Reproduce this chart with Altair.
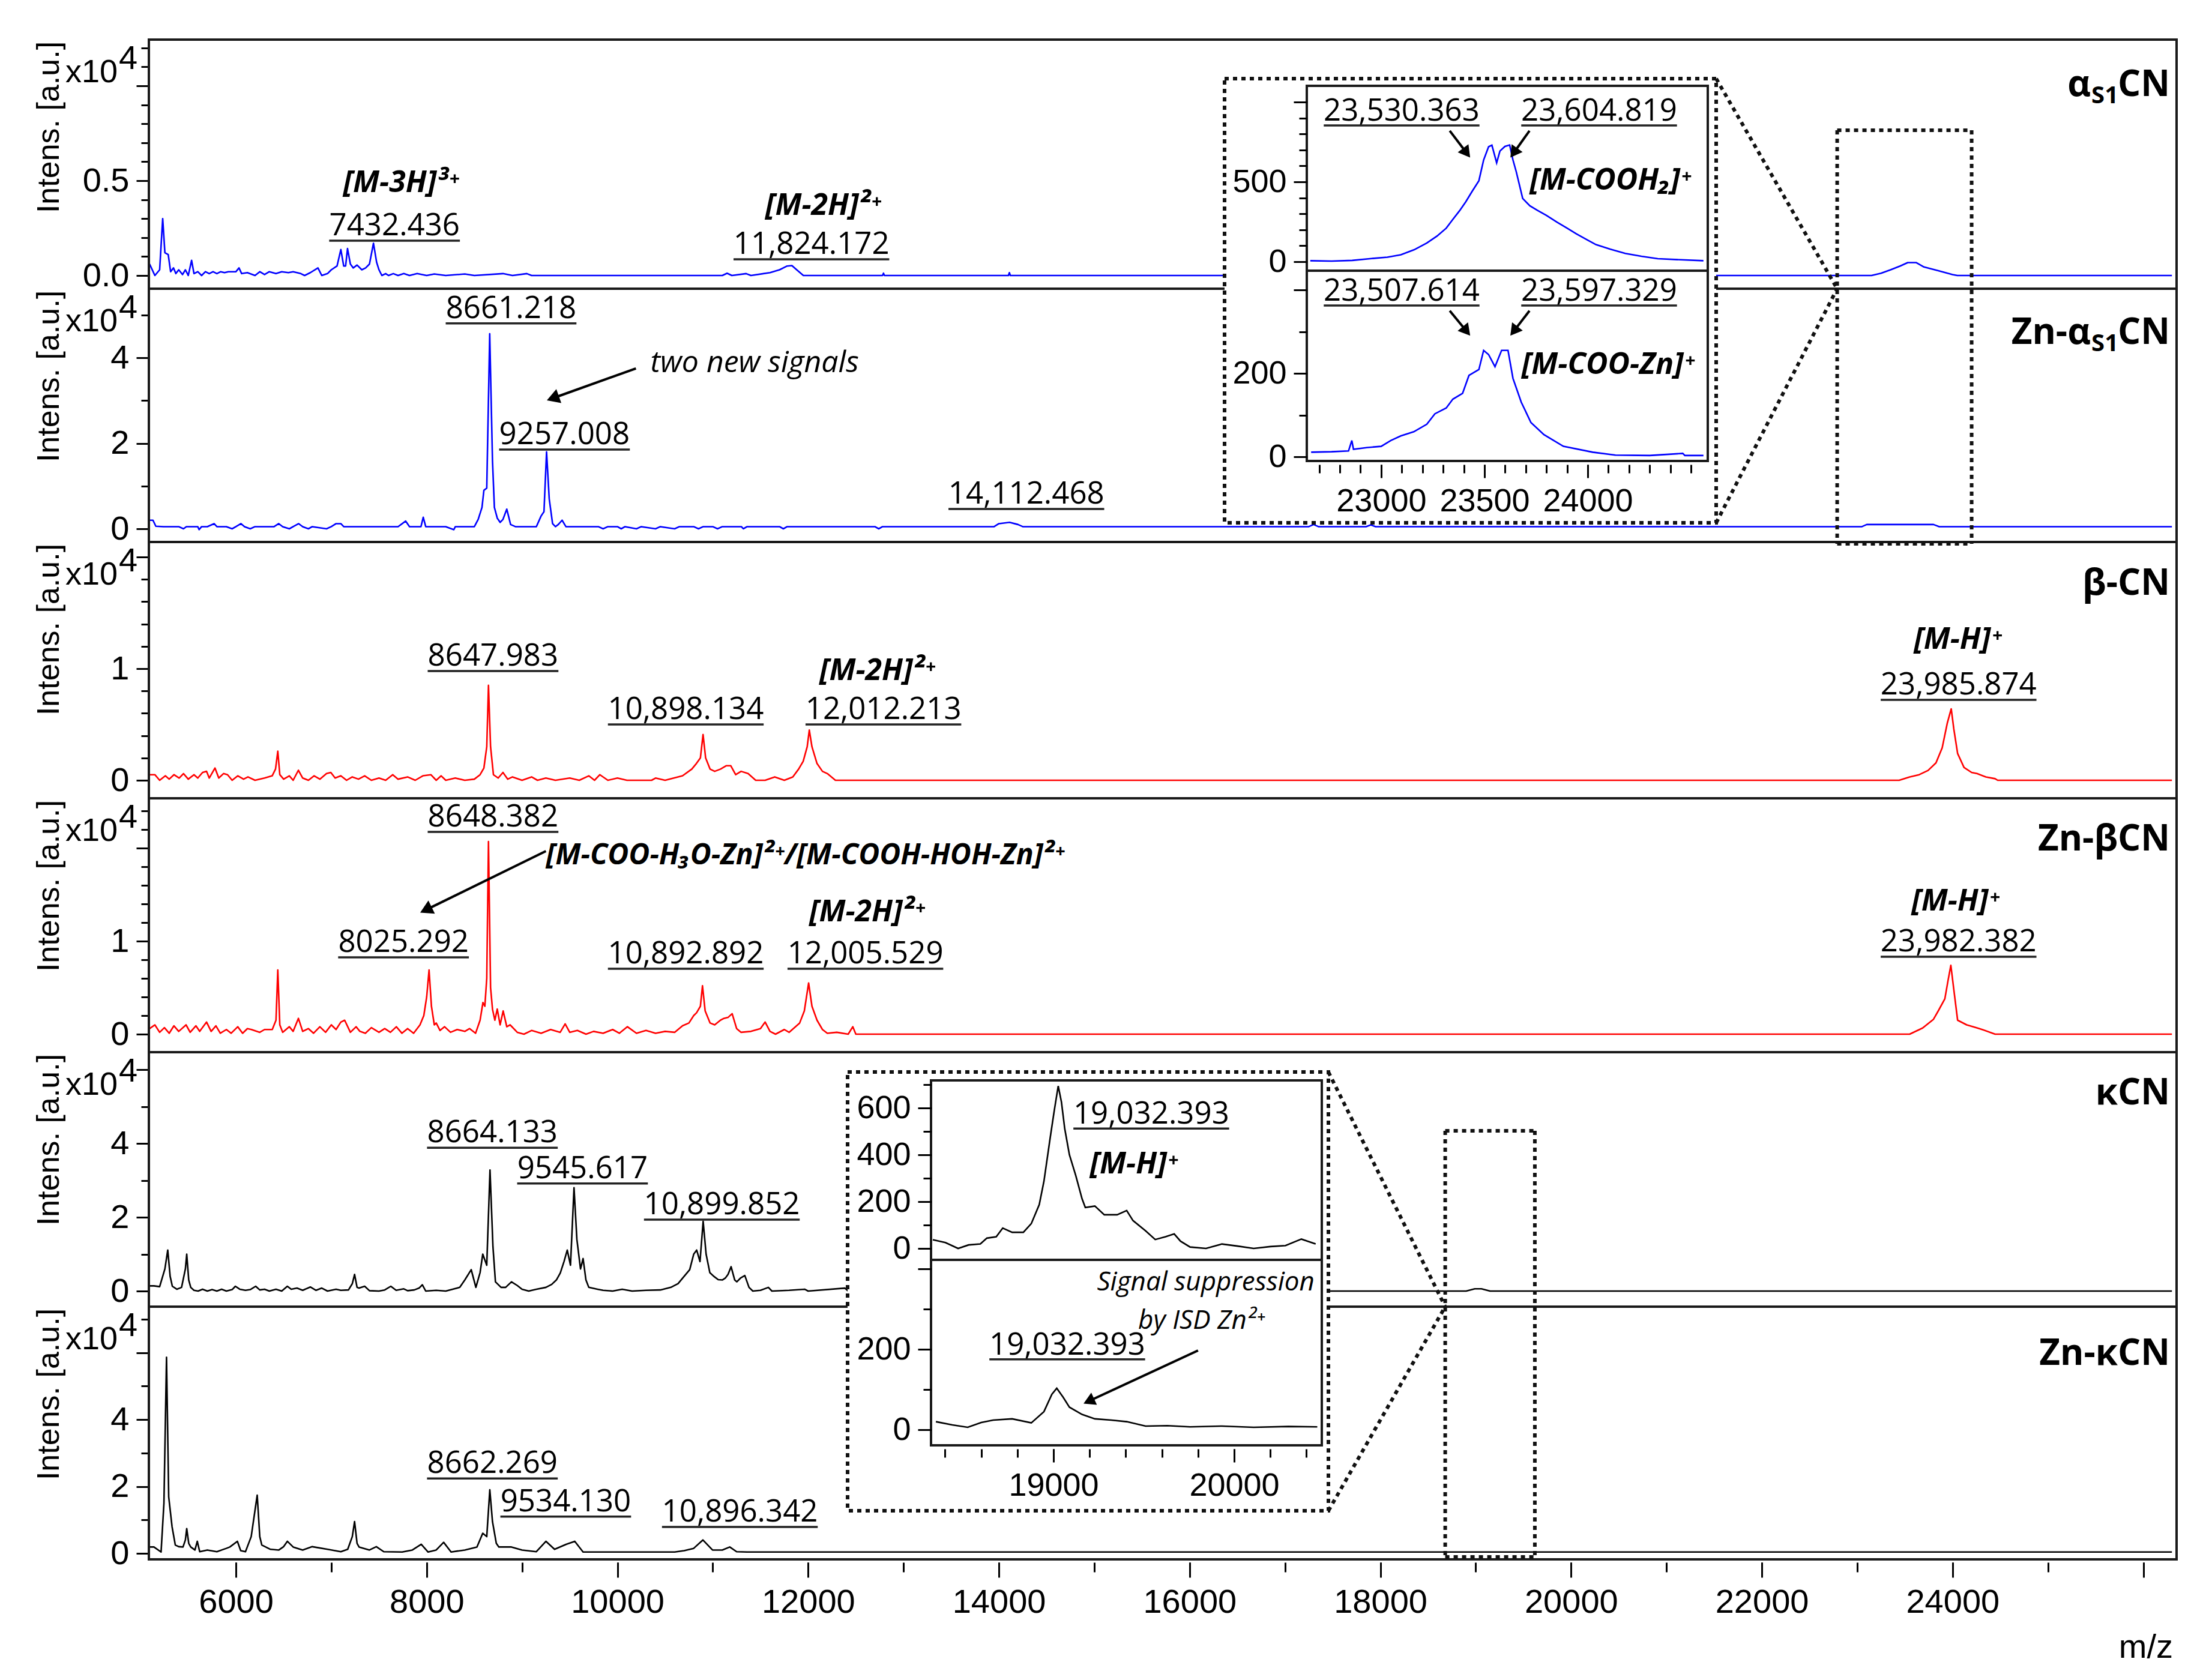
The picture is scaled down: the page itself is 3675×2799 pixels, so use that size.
import math
import altair as alt
import pandas as pd

# ---------------- spectra: (m/z, intensity x10^4 a.u.) ----------------
as1 = [(5095, 0.06), (5150, 0.0), (5200, 0.03), (5232, 0.30), (5255, 0.12), (5290, 0.11), (5315, 0.02),
       (5345, 0.04), (5370, 0.01), (5400, 0.03), (5440, 0.005), (5470, 0.03), (5500, 0.0), (5535, 0.08),
       (5560, 0.01), (5600, 0.02), (5640, 0.0), (5680, 0.02), (5720, 0.01), (5760, 0.02), (5800, 0.01),
       (5840, 0.02), (5880, 0.015), (5920, 0.02), (6000, 0.02), (6032, 0.04), (6060, 0.01), (6120, 0.015),
       (6200, 0.0), (6250, 0.02), (6300, 0.005), (6350, 0.02), (6420, 0.01), (6480, 0.02), (6550, 0.015),
       (6600, 0.02), (6680, 0.01), (6720, 0.0), (6780, 0.015), (6860, 0.04), (6900, 0.0), (6960, 0.01),
       (7000, 0.03), (7060, 0.05), (7100, 0.137), (7130, 0.05), (7150, 0.05), (7170, 0.142), (7200, 0.06),
       (7230, 0.04), (7270, 0.055), (7320, 0.03), (7360, 0.04), (7400, 0.06), (7442, 0.17), (7475, 0.07),
       (7500, 0.03), (7530, 0.0), (7570, 0.01), (7600, 0.0), (7650, 0.01), (7700, 0.0), (7760, 0.01),
       (7820, 0.0), (7900, 0.01), (8000, 0.0), (8080, 0.008), (8200, 0.0), (8400, 0.008), (8500, 0.0),
       (8800, 0.01), (8900, 0.0), (9050, 0.01), (9100, 0.0), (11100, 0.0), (11150, 0.012), (11200, 0.0),
       (11350, 0.01), (11400, 0.0), (11600, 0.015), (11700, 0.03), (11780, 0.05), (11830, 0.052),
       (11880, 0.03), (11950, 0.0), (12780, 0.0), (12790, 0.012), (12800, 0.0), (14100, 0.0),
       (14110, 0.015), (14120, 0.0), (23150, 0.0), (23250, 0.012), (23350, 0.03), (23450, 0.05),
       (23530, 0.068), (23620, 0.068), (23700, 0.045), (23850, 0.025), (24000, 0.005), (24050, 0.0),
       (26300, 0.0)]

zn_as1 = [(5095, 0.2), (5130, 0.2), (5160, 0.06), (5240, 0.05), (5400, 0.05), (5450, 0.0), (5480, 0.05),
          (5600, 0.05), (5614, -0.02), (5640, 0.05), (5700, 0.05), (5771, 0.12), (5800, 0.05), (5900, 0.05),
          (5960, 0.0), (6000, 0.05), (6053, 0.12), (6090, 0.05), (6150, 0.0), (6200, 0.05), (6400, 0.05),
          (6449, 0.12), (6490, 0.05), (6560, 0.0), (6600, 0.05), (6658, 0.12), (6700, 0.05), (6760, 0.0),
          (6800, 0.05), (6950, 0.0), (7000, 0.05), (7050, 0.12), (7100, 0.12), (7130, 0.05), (7700, 0.05),
          (7780, 0.18), (7820, 0.05), (7940, 0.05), (7964, 0.27), (7990, 0.05), (8200, 0.05), (8285, -0.02),
          (8300, 0.05), (8500, 0.05), (8540, 0.22), (8580, 0.5), (8600, 0.9), (8630, 0.95), (8661, 4.56),
          (8690, 1.6), (8710, 0.5), (8740, 0.25), (8770, 0.15), (8800, 0.22), (8840, 0.46), (8880, 0.1),
          (8930, 0.05), (9150, 0.05), (9200, 0.3), (9230, 0.4), (9257, 1.8), (9285, 0.7), (9320, 0.12),
          (9350, 0.05), (9380, 0.1), (9420, 0.2), (9460, 0.05), (9800, 0.05), (9850, 0.0), (9900, 0.05),
          (10000, 0.05), (10040, 0.0), (10080, 0.05), (10200, 0.0), (10250, 0.05), (10400, 0.0),
          (10450, 0.05), (10600, 0.0), (10650, 0.05), (10800, 0.05), (10850, 0.0), (10900, 0.05),
          (11000, 0.05), (11050, 0.0), (11100, 0.05), (11300, 0.05), (11320, 0.0), (11360, 0.05),
          (11700, 0.05), (11740, 0.0), (11780, 0.05), (12700, 0.05), (12740, 0.0), (12780, 0.05),
          (13950, 0.05), (14000, 0.12), (14112, 0.15), (14200, 0.1), (14250, 0.05), (17250, 0.05),
          (17300, 0.1), (17350, 0.05), (17850, 0.05), (17900, 0.09), (17950, 0.05), (23050, 0.05),
          (23100, 0.1), (23800, 0.1), (23860, 0.05), (26300, 0.05)]

b_cn = [(5095, 0.05), (5150, 0.05), (5200, 0.0), (5260, 0.04), (5300, 0.01), (5350, 0.05), (5405, 0.02),
        (5450, 0.06), (5500, 0.01), (5560, 0.05), (5600, 0.02), (5650, 0.07), (5692, 0.08), (5720, 0.02),
        (5780, 0.11), (5820, 0.02), (5870, 0.06), (5912, 0.05), (5960, 0.0), (6020, 0.04), (6080, 0.01),
        (6126, 0.03), (6200, 0.0), (6300, 0.02), (6380, 0.04), (6415, 0.1), (6439, 0.26), (6460, 0.05),
        (6500, 0.01), (6560, 0.04), (6600, 0.0), (6655, 0.09), (6700, 0.02), (6760, 0.0), (6820, 0.04),
        (6880, 0.01), (6950, 0.06), (6995, 0.07), (7040, 0.02), (7100, 0.04), (7160, 0.0), (7220, 0.03),
        (7285, 0.01), (7350, 0.04), (7420, 0.0), (7500, 0.02), (7570, 0.0), (7644, 0.05), (7700, 0.01),
        (7800, 0.03), (7880, 0.0), (7960, 0.04), (8044, 0.05), (8100, 0.0), (8152, 0.04), (8200, 0.0),
        (8300, 0.02), (8400, 0.0), (8500, 0.01), (8560, 0.05), (8600, 0.11), (8630, 0.3), (8648, 0.85),
        (8670, 0.3), (8700, 0.05), (8750, 0.02), (8800, 0.07), (8850, 0.01), (8900, 0.03), (9000, 0.0),
        (9100, 0.03), (9162, 0.0), (9250, 0.02), (9350, 0.0), (9500, 0.02), (9600, 0.0), (9700, 0.04),
        (9760, 0.0), (9816, 0.05), (9900, 0.0), (10000, 0.02), (10100, 0.0), (10358, 0.0), (10400, 0.02),
        (10500, 0.0), (10683, 0.04), (10780, 0.1), (10828, 0.15), (10870, 0.2), (10898, 0.41),
        (10925, 0.2), (10972, 0.1), (11020, 0.08), (11081, 0.1), (11140, 0.13), (11189, 0.13),
        (11240, 0.05), (11297, 0.08), (11370, 0.06), (11450, 0.0), (11549, 0.0), (11650, 0.03),
        (11750, 0.0), (11839, 0.03), (11900, 0.1), (11948, 0.17), (11990, 0.3), (12012, 0.45),
        (12040, 0.3), (12093, 0.15), (12150, 0.08), (12201, 0.06), (12286, 0.0), (23440, 0.0),
        (23550, 0.03), (23650, 0.05), (23743, 0.088), (23826, 0.156), (23891, 0.29), (23944, 0.51),
        (23986, 0.64), (24013, 0.46), (24053, 0.24), (24120, 0.115), (24200, 0.07), (24256, 0.06),
        (24350, 0.03), (24446, 0.014), (24473, 0.0), (26300, 0.0)]

zn_b = [(5095, 0.06), (5150, 0.1), (5200, 0.02), (5250, 0.07), (5300, 0.01), (5350, 0.09), (5400, 0.03),
        (5477, 0.1), (5520, 0.02), (5580, 0.09), (5620, 0.03), (5692, 0.13), (5740, 0.03), (5790, 0.09),
        (5836, 0.01), (5900, 0.05), (5950, 0.01), (6019, 0.08), (6070, 0.01), (6120, 0.06), (6162, 0.05),
        (6250, 0.02), (6300, 0.05), (6381, 0.05), (6420, 0.15), (6439, 0.69), (6460, 0.1), (6490, 0.02),
        (6560, 0.08), (6600, 0.03), (6655, 0.17), (6700, 0.03), (6760, 0.06), (6814, 0.01), (6880, 0.08),
        (6940, 0.02), (7000, 0.1), (7050, 0.05), (7100, 0.13), (7140, 0.15), (7200, 0.02), (7260, 0.08),
        (7300, 0.03), (7357, 0.01), (7420, 0.07), (7500, 0.02), (7560, 0.06), (7620, 0.02), (7682, 0.08),
        (7740, 0.01), (7800, 0.06), (7863, 0.01), (7930, 0.1), (7970, 0.2), (8000, 0.4), (8025, 0.69),
        (8050, 0.3), (8080, 0.1), (8100, 0.12), (8140, 0.04), (8188, 0.08), (8250, 0.02), (8320, 0.05),
        (8400, 0.03), (8450, 0.06), (8513, 0.01), (8560, 0.15), (8590, 0.34), (8610, 0.3), (8630, 0.6),
        (8648, 2.07), (8670, 0.5), (8690, 0.27), (8715, 0.15), (8740, 0.27), (8770, 0.1), (8802, 0.25),
        (8840, 0.08), (8875, 0.1), (8950, 0.02), (9020, 0.0), (9100, 0.04), (9200, 0.01), (9300, 0.05),
        (9400, 0.02), (9452, 0.11), (9500, 0.02), (9580, 0.04), (9671, 0.0), (9750, 0.03), (9850, 0.01),
        (9950, 0.05), (10020, 0.01), (10105, 0.08), (10200, 0.01), (10300, 0.04), (10400, 0.01),
        (10500, 0.03), (10600, 0.02), (10683, 0.09), (10750, 0.12), (10800, 0.2), (10830, 0.23),
        (10870, 0.3), (10892, 0.52), (10920, 0.25), (10972, 0.12), (11020, 0.1), (11080, 0.15),
        (11117, 0.17), (11160, 0.18), (11203, 0.22), (11250, 0.06), (11297, 0.02), (11400, 0.03),
        (11500, 0.06), (11549, 0.13), (11600, 0.03), (11658, 0.0), (11750, 0.05), (11800, 0.02),
        (11911, 0.12), (11960, 0.25), (12005, 0.55), (12040, 0.3), (12093, 0.15), (12150, 0.05),
        (12201, 0.01), (12300, 0.02), (12420, 0.0), (12468, 0.08), (12500, 0.0), (23550, 0.0),
        (23686, 0.066), (23800, 0.16), (23850, 0.25), (23919, 0.38), (23953, 0.58), (23982, 0.74),
        (24013, 0.48), (24053, 0.15), (24148, 0.1), (24250, 0.07), (24310, 0.05), (24446, 0.0),
        (26300, 0.0)]

k_cn = [(5095, 0.14), (5140, 0.14), (5200, 0.12), (5255, 0.6), (5285, 1.11), (5310, 0.4), (5333, 0.13),
        (5380, 0.05), (5430, 0.1), (5470, 0.6), (5484, 1.0), (5505, 0.3), (5526, 0.1), (5560, 0.02),
        (5603, 0.0), (5650, 0.05), (5700, 0.0), (5750, 0.04), (5800, 0.0), (5850, 0.05), (5900, 0.0),
        (5960, 0.04), (5994, 0.13), (6040, 0.05), (6100, 0.02), (6150, 0.04), (6207, 0.13), (6250, 0.03),
        (6300, 0.05), (6350, 0.0), (6420, 0.05), (6480, 0.0), (6539, 0.13), (6580, 0.05), (6640, 0.08),
        (6700, 0.02), (6780, 0.11), (6840, 0.02), (6900, 0.08), (6960, 0.0), (7050, 0.05), (7100, 0.02),
        (7180, 0.03), (7220, 0.2), (7244, 0.45), (7270, 0.1), (7291, 0.08), (7350, 0.13), (7400, 0.01),
        (7500, 0.0), (7560, 0.03), (7624, 0.13), (7680, 0.02), (7760, 0.06), (7800, 0.01), (7870, 0.03),
        (7920, 0.08), (7955, 0.17), (7990, 0.0), (8100, 0.02), (8200, 0.0), (8347, 0.1), (8400, 0.3),
        (8467, 0.58), (8516, 0.1), (8560, 0.5), (8588, 1.0), (8630, 0.7), (8664, 3.28), (8695, 1.2),
        (8721, 0.25), (8780, 0.1), (8828, 0.1), (8889, 0.25), (8950, 0.15), (9000, 0.05), (9070, 0.0),
        (9150, 0.05), (9250, 0.1), (9311, 0.18), (9360, 0.3), (9401, 0.49), (9440, 0.8), (9474, 1.11),
        (9508, 0.7), (9545, 2.8), (9575, 1.4), (9613, 0.6), (9640, 0.88), (9670, 0.3), (9700, 0.1),
        (9792, 0.05), (9850, 0.02), (9950, 0.0), (10050, 0.05), (10154, 0.0), (10300, 0.02),
        (10450, 0.03), (10560, 0.1), (10636, 0.2), (10700, 0.4), (10758, 0.58), (10800, 1.0),
        (10831, 1.11), (10866, 0.8), (10899, 1.89), (10930, 1.0), (10969, 0.5), (11010, 0.4),
        (11057, 0.31), (11100, 0.3), (11131, 0.35), (11160, 0.45), (11192, 0.66), (11230, 0.3),
        (11252, 0.25), (11290, 0.35), (11336, 0.42), (11380, 0.1), (11420, 0.0), (11500, 0.02),
        (11583, 0.1), (11620, 0.0), (11800, 0.02), (11963, 0.05), (12000, 0.0), (12384, 0.08),
        (12420, 0.0), (18900, 0.0), (18990, 0.06), (19060, 0.06), (19150, 0.0), (26300, 0.0)]

zn_k = [(5095, 0.19), (5140, 0.19), (5215, 0.04), (5245, 1.5), (5272, 5.86), (5295, 1.69), (5330, 0.8),
        (5364, 0.25), (5400, 0.2), (5445, 0.19), (5470, 0.4), (5484, 0.74), (5505, 0.3), (5526, 0.19),
        (5570, 0.1), (5595, 0.36), (5620, 0.05), (5700, 0.1), (5800, 0.05), (5900, 0.15), (5936, 0.19),
        (6015, 0.36), (6050, 0.08), (6100, 0.05), (6160, 0.5), (6223, 1.74), (6250, 0.5), (6271, 0.25),
        (6362, 0.12), (6450, 0.1), (6500, 0.2), (6539, 0.36), (6600, 0.19), (6700, 0.1), (6800, 0.2),
        (6961, 0.12), (7100, 0.05), (7172, 0.12), (7220, 0.5), (7244, 0.95), (7270, 0.3), (7291, 0.19),
        (7400, 0.1), (7472, 0.2), (7550, 0.05), (7743, 0.04), (7850, 0.1), (7943, 0.27), (8015, 0.04),
        (8100, 0.1), (8178, 0.33), (8256, 0.04), (8400, 0.1), (8527, 0.19), (8588, 0.6), (8630, 0.5),
        (8662, 1.9), (8690, 0.95), (8730, 0.3), (8757, 0.19), (8889, 0.19), (9000, 0.1), (9150, 0.05),
        (9251, 0.36), (9341, 0.12), (9462, 0.27), (9553, 0.36), (9640, 0.04), (10600, 0.04),
        (10700, 0.08), (10800, 0.15), (10896, 0.4), (10997, 0.1), (11100, 0.1), (11178, 0.19),
        (11250, 0.05), (11360, 0.04), (26300, 0.04)]

# ---------------- inset spectra (m/z, intensity a.u.) ----------------
ins_as1 = [(22657, 6), (22760, 4), (22860, 8), (22953, 20), (23030, 28), (23095, 43), (23160, 75),
           (23221, 117), (23270, 160), (23315, 210), (23347, 265), (23380, 320), (23410, 376), (23440, 440),
           (23473, 507), (23496, 637), (23520, 720), (23536, 730), (23559, 619), (23575, 693), (23599, 722),
           (23622, 731), (23638, 637), (23654, 563), (23685, 396), (23720, 350), (23756, 322), (23800, 290),
           (23851, 248), (23900, 210), (23945, 174), (24000, 135), (24040, 107), (24110, 78), (24182, 52),
           (24260, 34), (24339, 19), (24450, 12), (24560, 6)]
ins_zn_as1 = [(22661, 11), (22760, 12), (22842, 14), (22858, 39), (22866, 18), (22930, 22), (23000, 25),
              (23047, 39), (23095, 50), (23158, 60), (23221, 78), (23260, 103), (23315, 117), (23347, 138),
              (23394, 152), (23425, 195), (23473, 209), (23496, 255), (23520, 245), (23551, 216),
              (23583, 255), (23614, 255), (23638, 188), (23678, 131), (23725, 82), (23788, 53), (23882, 25),
              (24024, 11), (24134, 4), (24300, 3), (24460, 8), (24470, 3), (24560, 3)]
ins_k = [(18332, 37), (18402, 25), (18472, 0), (18530, 15), (18595, 19), (18631, 44), (18683, 50),
         (18719, 87), (18771, 69), (18833, 69), (18877, 106), (18921, 187), (18947, 287), (18982, 475),
         (19004, 588), (19026, 694), (19044, 625), (19062, 512), (19088, 400), (19123, 312), (19158, 212),
         (19176, 175), (19229, 181), (19281, 144), (19352, 144), (19405, 162), (19440, 119), (19510, 75),
         (19563, 38), (19620, 50), (19668, 62), (19703, 31), (19756, 6), (19844, 0), (19932, 19),
         (20020, 10), (20108, 0), (20200, 8), (20284, 12), (20372, 40), (20451, 19)]
ins_zn_k = [(18349, 20), (18440, 12), (18525, 6), (18600, 18), (18666, 24), (18771, 27), (18877, 17),
            (18947, 45), (18991, 88), (19018, 103), (19053, 81), (19088, 56), (19158, 38), (19229, 27),
            (19320, 24), (19405, 20), (19510, 9), (19630, 10), (19756, 7), (19932, 9), (20108, 6),
            (20300, 8), (20460, 7)]

# ---------------- tick values ----------------
x_major = [6000, 8000, 10000, 12000, 14000, 16000, 18000, 20000, 22000, 24000, 26000]
x_minor = [6000, 7000, 8000, 9000, 10000, 11000, 12000, 13000, 14000, 15000, 16000, 17000, 18000,
           19000, 20000, 21000, 22000, 23000, 24000, 25000, 26000]
y_major = [[0, 0.5, 1.0], [0, 2, 4], [0, 1, 2], [0, 1, 2], [0, 2, 4, 6], [0, 2, 4, 6]]
y_minor = [[0, 0.1, 0.2, 0.3, 0.4, 0.5, 0.6, 0.7, 0.8, 0.9, 1.0, 1.1, 1.2],
           [0, 1, 2, 3, 4, 5],
           [0, 0.2, 0.4, 0.6, 0.8, 1.0, 1.2, 1.4, 1.6, 1.8, 2.0],
           [0, 0.2, 0.4, 0.6, 0.8, 1.0, 1.2, 1.4, 1.6, 1.8, 2.0, 2.2, 2.4],
           [0, 1, 2, 3, 4, 5, 6],
           [0, 1, 2, 3, 4, 5, 6, 7]]
y_hide = [0.9, None, 1.5, 1.5, 5, 5]
y_fmt = ['.1f', 'd', 'd', 'd', 'd', 'd']

panel_names = [["α", "S1", "CN"], ["Zn-α", "S1", "CN"], ["β-CN"], ["Zn-βCN"], ["κCN"], ["Zn-κCN"]]
colors = ['#0000ff', '#0000ff', '#ff0000', '#ff0000', '#000000', '#000000']

# peak labels: (panel, m/z, intensity, text)
main_numbers = [(0, 7663, 0.212, "7432.436"), (0, 12034, 0.114, "11,824.172"),
                (1, 8885, 4.93, "8661.218"), (1, 9445, 1.98, "9257.008"), (1, 14288, 0.59, "14,112.468"),
                (2, 8696, 1.027, "8647.983"), (2, 10717, 0.548, "10,898.134"), (2, 12789, 0.548, "12,012.213"),
                (2, 24063, 0.769, "23,985.874"),
                (3, 8696, 2.232, "8648.382"), (3, 7757, 0.884, "8025.292"), (3, 10717, 0.761, "10,892.892"),
                (3, 12600, 0.761, "12,005.529"), (3, 24063, 0.890, "23,982.382"),
                (4, 8689, 4.03, "8664.133"), (4, 9634, 3.06, "9545.617"), (4, 11095, 2.08, "10,899.852"),
                (5, 8689, 2.40, "8662.269"), (5, 9458, 1.26, "9534.130"), (5, 11284, 0.95, "10,896.342")]
main_ions = [(0, 7732, 0.44, "[M-3H]³⁺"), (0, 12159, 0.32, "[M-2H]²⁺"),
             (2, 12726, 0.90, "[M-2H]²⁺"), (2, 24056, 1.18, "[M-H]⁺"),
             (3, 12619, 1.21, "[M-2H]²⁺"), (3, 24031, 1.33, "[M-H]⁺")]
main_long = [(3, 9250, 1.826, "[M-COO-H₃O-Zn]²⁺/[M-COOH-HOH-Zn]²⁺")]
main_notes = [(1, 10346, 3.66, "two new signals")]
main_arrows = [(1, 10194, 3.75, 9281, 3.02), (3, 9250, 1.968, 7952, 1.316)]

# inset labels: (inset, sub-panel, m/z, intensity, text)
ins_numbers = [("a", 0, 23099, 883, "23,530.363"), ("a", 0, 24055, 883, "23,604.819"),
               ("a", 1, 23099, 374, "23,507.614"), ("a", 1, 24055, 374, "23,597.329"),
               ("k", 0, 19541, 533, "19,032.393"), ("k", 1, 19076, 187, "19,032.393")]
ins_ions = [("a", 0, 24110, 451, "[M-COOH₂]⁺"), ("a", 1, 24099, 199, "[M-COO-Zn]⁺"),
            ("k", 0, 19445, 321, "[M-H]⁺")]
ins_notes = [("k", 1, 20445, 346, "Signal suppression"), ("k", 1, 20169, 251, "by ISD Zn²⁺")]
ins_arrows = [("a", 0, 23332, 820, 23425, 662), ("a", 0, 23718, 820, 23631, 662),
              ("a", 1, 23332, 350, 23425, 294), ("a", 1, 23718, 350, 23631, 294),
              ("k", 1, 19800, 197, 19176, 67)]

# ---------------- layout (pixels of the plot area) ----------------
W, H = 3378, 2532
XDOM = [5087, 26349]
# top, bottom, zero line, pixels per unit
PANELS = [(0, 415, 393, 316.0), (415, 837, 815, 71.25), (837, 1264, 1234, 186.0),
          (1264, 1687, 1657, 155.0), (1687, 2111, 2085, 61.5), (2111, 2532, 2522, 55.75)]
INSETS = {
    "a": dict(left=1929, right=2597, xdom=[22640, 24581],
              subs=[(77, 385, 370, 0.266), (385, 702, 695, 0.695)],
              box=(1792, 2611, 65, 805), zoom=(22790, 24200, 151, 840), join=415,
              ymaj=[[0, 500, 1000], [0, 200, 400]], ymin=[list(range(0, 1001, 100)), list(range(0, 401, 100))],
              yhide=[900, 300], xmaj=[23000, 23500, 24000], xmin=list(range(22700, 24501, 100)),
              colors=['#0000ff', '#0000ff'], data=[ins_as1, ins_zn_as1]),
    "k": dict(left=1303, right=1954, xdom=[18322, 20485],
              subs=[(1734, 2033, 2014, 0.39), (2033, 2342, 2316, 0.67)],
              box=(1164, 1965, 1720, 2451), zoom=(18680, 19620, 1818, 2528), join=2111,
              ymaj=[[0, 200, 400, 600], [0, 200, 400]], ymin=[list(range(0, 701, 100)), list(range(0, 401, 100))],
              yhide=[None, 300], xmaj=[19000, 20000], xmin=list(range(18400, 20401, 200)),
              colors=['#000000', '#000000'], data=[ins_k, ins_zn_k]),
}

AXF = "Liberation Sans"
SANS = "Open Sans"
NUM_FS = 51


def px_x(mz):
    return (mz - XDOM[0]) / (XDOM[1] - XDOM[0]) * W


def px_y(p, v):
    top, bot, zero, ppu = PANELS[p]
    return zero - v * ppu


def ipx_x(name, mz):
    ins = INSETS[name]
    return ins["left"] + (mz - ins["xdom"][0]) / (ins["xdom"][1] - ins["xdom"][0]) * (ins["right"] - ins["left"])


def ipx_y(name, s, v):
    top, bot, zero, ppu = INSETS[name]["subs"][s]
    return zero - v * ppu


def panel_scale(p):
    top, bot, zero, ppu = PANELS[p]
    return alt.Scale(domain=[(zero - bot) / ppu, (zero - top) / ppu], range=[bot, top], nice=False, zero=False)


def inset_yscale(name, s):
    top, bot, zero, ppu = INSETS[name]["subs"][s]
    return alt.Scale(domain=[(zero - bot) / ppu, (zero - top) / ppu], range=[bot, top], nice=False, zero=False)


def inset_xscale(name):
    ins = INSETS[name]
    return alt.Scale(domain=ins["xdom"], range=[ins["left"], ins["right"]], nice=False, zero=False)


XSCALE = alt.Scale(domain=XDOM, range=[0, W], nice=False, zero=False)

CW = {c: 0.572 for c in "0123456789"}
CW.update({",": 0.245, ".": 0.266})


def tw(s, fs):
    return sum(CW.get(c, 0.55) for c in s) * fs


def make_axis(orient, values, size, labels, fmt='d', hide=None, offset=0, fs=56, pad=12, z=0):
    kw = dict(orient=orient, values=values, tickSize=size, tickWidth=3, tickColor='black',
              domain=False, grid=False, title=None, offset=offset, labels=labels, zindex=z)
    if labels:
        kw.update(format=fmt, labelFont=AXF, labelFontSize=fs, labelColor='black',
                  labelPadding=pad, labelOverlap=False, labelFlush=False, labelBound=False)
        if hide is not None:
            kw['labelExpr'] = "datum.value > %s ? '' : datum.label" % hide
    return alt.Axis(**kw)


def pxX():
    return alt.X('x:Q', scale=None, axis=None)


def pxY():
    return alt.Y('y:Q', scale=None, axis=None)


def text_layer(rows, font, weight='normal', style='normal', align='center', angle=0):
    return alt.Chart(pd.DataFrame(rows)).mark_text(
        font=font, fontWeight=weight, fontStyle=style, align=align, baseline='alphabetic',
        angle=angle, color='black').encode(
        x=pxX(), y=pxY(), text='t:N', size=alt.Size('s:Q', scale=None, legend=None))


def rule_layer(rows, color='black', width=3.0, dash=None):
    kw = dict(color=color, strokeWidth=width)
    if dash:
        kw['strokeDash'] = dash
    return alt.Chart(pd.DataFrame(rows)).mark_rule(**kw).encode(
        x=pxX(), y=pxY(), x2='x2:Q', y2='y2:Q')


def rect_layer(rows, **kw):
    return alt.Chart(pd.DataFrame(rows)).mark_rect(**kw).encode(
        x=pxX(), y=pxY(), x2='x2:Q', y2='y2:Q')


def arrow_rows(x1, y1, x2, y2, size=600):
    dx, dy = x2 - x1, y2 - y1
    L = math.hypot(dx, dy)
    ux, uy = dx / L, dy / L
    h = math.sqrt(3) / 2 * math.sqrt(size) / 2
    cx, cy = x2 - ux * h, y2 - uy * h
    ang = math.degrees(math.atan2(ux, -uy)) % 360
    return dict(x=x1, y=y1, x2=cx, y2=cy), dict(x=cx, y=cy, a=ang, sz=size)


layers = []

# ---------------- main spectra with their axes ----------------
x_axis_major = make_axis('bottom', x_major, 25, True, hide=25000, offset=5, fs=56, pad=14)
x_axis_minor = make_axis('bottom', x_minor, 16, False, offset=5)
all_series = [as1, zn_as1, b_cn, zn_b, k_cn, zn_k]
for i in range(6):
    mz, v = zip(*all_series[i])
    df = pd.DataFrame({'mz': mz, 'v': v})
    ys = panel_scale(i)
    layers.append(alt.Chart(df).mark_line(color=colors[i], strokeWidth=2.6, strokeJoin='round').encode(
        x=alt.X('mz:Q', scale=XSCALE, axis=x_axis_major if i == 5 else None),
        y=alt.Y('v:Q', scale=ys, axis=make_axis('left', y_major[i], 21, True, fmt=y_fmt[i], hide=y_hide[i]))))
    layers.append(alt.Chart(df).mark_line(opacity=0).encode(
        x=alt.X('mz:Q', scale=XSCALE, axis=x_axis_minor if i == 5 else None),
        y=alt.Y('v:Q', scale=ys, axis=make_axis('left', y_minor[i], 13, False))))

# frame and panel separators
layers.append(rect_layer([dict(x=0, x2=W, y=0, y2=H)], fillOpacity=0, stroke='#1a1a1a', strokeWidth=4))
layers.append(rule_layer([dict(x=0, x2=W, y=PANELS[i][0], y2=PANELS[i][0]) for i in range(1, 6)],
                         color='#1a1a1a', width=4))

# axis titles and exponents
layers.append(text_layer([dict(x=-150, y=PANELS[i][0] + 146, t='Intens. [a.u.]', s=52) for i in range(6)],
                         AXF, angle=270))
layers.append(text_layer([dict(x=-52, y=PANELS[i][0] + 71, t='x10', s=54) for i in range(6)], AXF, align='right'))
layers.append(text_layer([dict(x=-50, y=PANELS[i][0] + 49, t='4', s=56) for i in range(6)], AXF, align='left'))
layers.append(text_layer([dict(x=W - 6, y=H + 164, t='m/z', s=56)], AXF, align='right'))

# panel names
name_rows = []
name_base = [94, 507, 925, 1351, 1774, 2208]
for i, parts in enumerate(panel_names):
    if len(parts) == 3:
        name_rows.append(dict(x=W - 11, y=name_base[i], t=parts[2], s=60))
        name_rows.append(dict(x=W - 97, y=name_base[i] + 12, t=parts[1], s=40))
        name_rows.append(dict(x=W - 143, y=name_base[i], t=parts[0], s=60))
    else:
        name_rows.append(dict(x=W - 11, y=name_base[i], t=parts[0], s=60))
layers.append(text_layer(name_rows, SANS, weight='bold', align='right'))

# main peak labels
num_rows, ul_rows = [], []
for p, mz, v, t in main_numbers:
    x, y = px_x(mz), px_y(p, v)
    num_rows.append(dict(x=x, y=y, t=t, s=NUM_FS))
    w = tw(t, NUM_FS)
    ul_rows.append(dict(x=x - w / 2, x2=x + w / 2, y=y + 9, y2=y + 9))
layers.append(text_layer(num_rows, SANS))
layers.append(rule_layer(ul_rows, color='#222', width=3.5))
layers.append(text_layer([dict(x=px_x(mz), y=px_y(p, v), t=t, s=50) for p, mz, v, t in main_ions],
                         SANS, weight='bold', style='italic'))
layers.append(text_layer([dict(x=px_x(mz), y=px_y(p, v), t=t, s=48) for p, mz, v, t in main_long],
                         SANS, weight='bold', style='italic', align='left'))
layers.append(text_layer([dict(x=px_x(mz), y=px_y(p, v), t=t, s=50) for p, mz, v, t in main_notes],
                         SANS, style='italic', align='left'))

arrow_lines, arrow_heads = [], []
for p, m1, v1, m2, v2 in main_arrows:
    l, hd = arrow_rows(px_x(m1), px_y(p, v1), px_x(m2), px_y(p, v2))
    arrow_lines.append(l)
    arrow_heads.append(hd)

# ---------------- insets ----------------
box_rows, dot_rules, frame_rows, sep_rows = [], [], [], []
for name, ins in INSETS.items():
    x1, x2, y1, y2 = ins["box"]
    box_rows.append(dict(x=x1, x2=x2, y=y1, y2=y2))
    zm1, zm2, zy1, zy2 = ins["zoom"]
    zx1, zx2 = px_x(zm1), px_x(zm2)
    dot_rules += [dict(x=zx1, x2=zx2, y=zy1, y2=zy1), dict(x=zx1, x2=zx2, y=zy2, y2=zy2),
                  dict(x=zx1, x2=zx1, y=zy1, y2=zy2), dict(x=zx2, x2=zx2, y=zy1, y2=zy2),
                  dict(x=x2, x2=zx1, y=y1, y2=ins["join"]), dict(x=x2, x2=zx1, y=y2, y2=ins["join"])]
    frame_rows.append(dict(x=ins["left"], x2=ins["right"], y=ins["subs"][0][0], y2=ins["subs"][1][1]))
    sep_rows.append(dict(x=ins["left"], x2=ins["right"], y=ins["subs"][0][1], y2=ins["subs"][0][1]))

layers.append(rect_layer(box_rows, fill='white', stroke='#111', strokeWidth=6, strokeDash=[7, 7]))
layers.append(rule_layer(dot_rules, color='#111', width=6, dash=[7, 7]))
layers.append(rect_layer(frame_rows, fillOpacity=0, stroke='#1a1a1a', strokeWidth=4))
layers.append(rule_layer(sep_rows, color='#1a1a1a', width=4))

for name, ins in INSETS.items():
    xs = inset_xscale(name)
    for s in range(2):
        mz, v = zip(*ins["data"][s])
        df = pd.DataFrame({'mz': mz, 'v': v})
        ys = inset_yscale(name, s)
        xoff = ins["subs"][1][1] - H + 6
        xmaj = make_axis('bottom', ins["xmaj"], 22, True, offset=xoff, fs=54, pad=12, z=2) if s == 1 else None
        xmin = make_axis('bottom', ins["xmin"], 14, False, offset=xoff, z=2) if s == 1 else None
        layers.append(alt.Chart(df).mark_line(color=ins["colors"][s], strokeWidth=2.6).encode(
            x=alt.X('mz:Q', scale=xs, axis=xmaj),
            y=alt.Y('v:Q', scale=ys, axis=make_axis('left', ins["ymaj"][s], 22, True, hide=ins["yhide"][s],
                                                     offset=-ins["left"], fs=54, pad=12, z=2))))
        layers.append(alt.Chart(df).mark_line(opacity=0).encode(
            x=alt.X('mz:Q', scale=xs, axis=xmin),
            y=alt.Y('v:Q', scale=ys, axis=make_axis('left', ins["ymin"][s], 13, False, offset=-ins["left"], z=2))))

inum, iul = [], []
for n, s, mz, v, t in ins_numbers:
    x, y = ipx_x(n, mz), ipx_y(n, s, v)
    inum.append(dict(x=x, y=y, t=t, s=NUM_FS))
    w = tw(t, NUM_FS)
    iul.append(dict(x=x - w / 2, x2=x + w / 2, y=y + 8, y2=y + 8))
layers.append(text_layer(inum, SANS))
layers.append(rule_layer(iul, color='#222', width=3.5))
layers.append(text_layer([dict(x=ipx_x(n, mz), y=ipx_y(n, s, v), t=t, s=50) for n, s, mz, v, t in ins_ions],
                         SANS, weight='bold', style='italic'))
layers.append(text_layer([dict(x=ipx_x(n, mz), y=ipx_y(n, s, v), t=t, s=44) for n, s, mz, v, t in ins_notes],
                         SANS, style='italic', align='right'))
for n, s, m1, v1, m2, v2 in ins_arrows:
    l, hd = arrow_rows(ipx_x(n, m1), ipx_y(n, s, v1), ipx_x(n, m2), ipx_y(n, s, v2), size=500)
    arrow_lines.append(l)
    arrow_heads.append(hd)

layers.append(rule_layer(arrow_lines, color='black', width=4))
layers.append(alt.Chart(pd.DataFrame(arrow_heads)).mark_point(shape='triangle', filled=True, color='black',
                                                              opacity=1).encode(
    x=pxX(), y=pxY(), angle=alt.Angle('a:Q', scale=None), size=alt.Size('sz:Q', scale=None, legend=None)))

chart = alt.layer(*layers).resolve_scale(x='independent', y='independent').properties(
    width=W, height=H, autosize=alt.AutoSizeParams(type='none'),
    padding={"left": 240, "top": 58, "right": 20, "bottom": 220}
).configure_view(stroke=None)

chart.save("out.html", embed_options={"renderer": "svg", "actions": False})
